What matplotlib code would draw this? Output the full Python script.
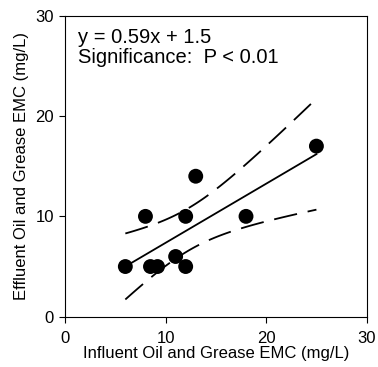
import numpy as np
import matplotlib
matplotlib.use("Agg")
import matplotlib.pyplot as plt

plt.rcParams['font.family'] = ['Liberation Sans', 'DejaVu Sans']

influent = [6, 8, 8.5, 9.2, 11, 12, 12, 13, 18, 25]
effluent = [5, 10, 5, 5, 6, 10, 5, 14, 10, 17]
equation_text = "y = 0.59x + 1.5"
signif_text = "Significance:  P < 0.01"
x_ticks = [0, 10, 20, 30]
y_ticks = [0, 10, 20, 30]

x = np.array(influent, dtype=float)
y = np.array(effluent, dtype=float)
n = len(x)
b, a = np.polyfit(x, y, 1)
resid = y - (a + b * x)
s = np.sqrt(np.sum(resid ** 2) / (n - 2))
sxx = np.sum((x - x.mean()) ** 2)
t = 2.306  # t(0.975, 8)
xs = np.linspace(x.min(), x.max(), 100)
yfit = a + b * xs
half = t * s * np.sqrt(1.0 / n + (xs - x.mean()) ** 2 / sxx)

fig = plt.figure(figsize=(3.78, 3.67), dpi=100)
ax = fig.add_axes([65 / 378, 1 - 316.7 / 367, (366.7 - 65) / 378, (316.7 - 15.7) / 367])

ax.plot(xs, yfit, color='black', lw=1.3)
ax.plot(xs, yfit + half, color='black', lw=1.3, dashes=(13, 6))
ax.plot(xs, yfit - half, color='black', lw=1.3, dashes=(13, 6))
ax.scatter(x, y, s=115, color='black', zorder=3, edgecolors='none')

ax.set_xlim(0, 30)
ax.set_ylim(0, 30)
ax.set_xticks(x_ticks)
ax.set_yticks(y_ticks)
ax.tick_params(direction='out', length=4, width=0.8, labelsize=12, colors='black')
ax.tick_params(axis='x', pad=6)
ax.tick_params(axis='y', pad=4)
for sp in ax.spines.values():
    sp.set_linewidth(0.8)

ax.set_xlabel("Influent Oil and Grease EMC (mg/L)", fontsize=12)
ax.set_ylabel("Effluent Oil and Grease EMC (mg/L)", fontsize=12)
ax.xaxis.set_label_coords(0.5, -0.097)
ax.yaxis.set_label_coords(-0.119, 0.5)

ax.text(0.043, 0.842, equation_text + "\n" + signif_text, transform=ax.transAxes,
        fontsize=14.5, va='baseline', ha='left', linespacing=1.06)

fig.savefig("out.png", dpi=100)
